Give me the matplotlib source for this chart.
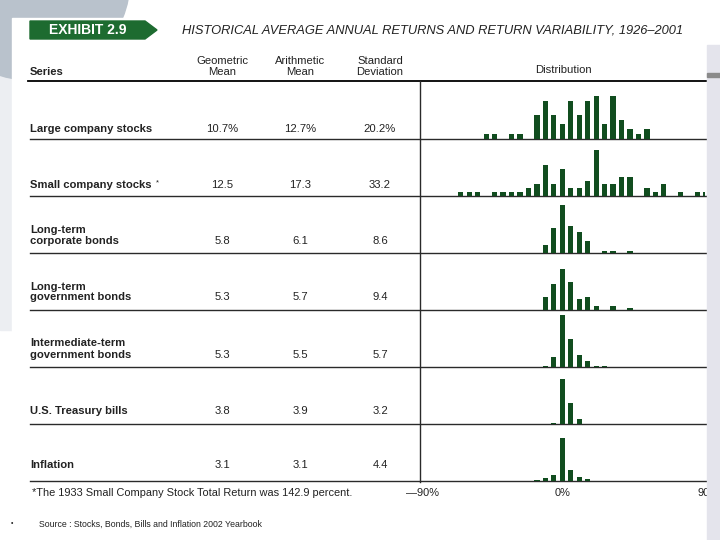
import matplotlib
matplotlib.use("Agg")
import matplotlib.pyplot as plt
from matplotlib.patches import Polygon, Rectangle, Circle

plt.rcParams["font.family"] = ["Liberation Sans", "DejaVu Sans"]

# ===============================
# DATA
# ===============================

series_names = [
    "Large company stocks",
    "Small company stocks",
    "Long-term\ncorporate bonds",
    "Long-term\ngovernment bonds",
    "Intermediate-term\ngovernment bonds",
    "U.S. Treasury bills",
    "Inflation",
]
geometric_mean = ["10.7%", "12.5", "5.8", "5.3", "5.3", "3.8", "3.1"]
arithmetic_mean = ["12.7%", "17.3", "6.1", "5.7", "5.5", "3.9", "3.1"]
std_dev = ["20.2%", "33.2", "8.6", "9.4", "5.7", "3.2", "4.4"]

# distribution: lower edge of each 5% return bin and number of years in it
large_bins = [-45, -40, -30, -25, -15, -10, -5, 0, 5, 10, 15, 20, 25, 30, 35, 40, 45, 50]
large_counts = [1, 1, 1, 1, 5, 8, 5, 3, 8, 5, 8, 9, 3, 9, 4, 2, 1, 2]

small_bins = [-60, -55, -50, -40, -35, -30, -25, -20, -15, -10, -5, 0, 5, 10,
              15, 20, 25, 30, 35, 40, 50, 55, 60, 70, 80, 85]
small_counts = [1, 1, 1, 1, 1, 1, 1, 2, 3, 8, 3, 7, 2, 2,
                4, 12, 3, 3, 5, 5, 2, 1, 3, 1, 1, 1]

corp_bins = [-10, -5, 0, 5, 10, 15, 25, 30, 40]
corp_counts = [4, 13, 25, 14, 11, 6, 1, 1, 1]

gov_bins = [-10, -5, 0, 5, 10, 15, 20, 30, 40]
gov_counts = [7, 14, 22, 15, 6, 7, 2, 2, 1]

inter_bins = [-10, -5, 0, 5, 10, 15, 20, 25]
inter_counts = [1, 7, 35, 19, 8, 4, 1, 1]

tbill_bins = [-5, 0, 5, 10]
tbill_counts = [1, 48, 22, 5]

infl_bins = [-15, -10, -5, 0, 5, 10, 15]
infl_counts = [1, 3, 7, 47, 12, 4, 2]

dist_bins = [large_bins, small_bins, corp_bins, gov_bins, inter_bins, tbill_bins, infl_bins]
dist_counts = [large_counts, small_counts, corp_counts, gov_counts, inter_counts, tbill_counts, infl_counts]

# vertical scale of each little histogram (counts shown over one row height)
row_scale = [12.2, 14.9, 29.5, 30.6, 38.0, 61.0, 63.0]

# ===============================
# LAYOUT (pixel coordinates)
# ===============================

W, H = 720, 540
fig = plt.figure(figsize=(7.2, 5.4), dpi=100)
fig.patch.set_facecolor("white")
ax = fig.add_axes([0, 0, 1, 1])
ax.set_xlim(0, W)
ax.set_ylim(H, 0)
ax.axis("off")

# page background / scan edges
ax.add_patch(Rectangle((0, 0), 12, 330, color="#eceef2", zorder=0))
ax.add_patch(Circle((30, -20), 100, color="#b9c2cc", zorder=0))
ax.add_patch(Rectangle((12, 18), 695, 530, color="white", zorder=1))

# exhibit banner
banner = Polygon([(30, 21), (145, 21), (157, 30), (145, 39), (30, 39)],
                 closed=True, color="#1d6b30", zorder=3)
ax.add_patch(banner)
ax.text(88, 30.5, "EXHIBIT 2.9", color="white", fontsize=10, fontweight="bold",
        ha="center", va="center", zorder=4)
ax.text(182, 30.5, "HISTORICAL AVERAGE ANNUAL RETURNS AND RETURN VARIABILITY, 1926\u20132001",
        fontsize=9.3, style="italic", color="#222222", ha="left", va="center", zorder=4)

# column headers
txt = dict(color="#222222", zorder=4)
fs = 8.1
ax.text(30, 72, "Series", fontsize=fs, fontweight="bold", ha="left", va="center", **txt)
col_x = [222, 300, 380]
headers = [("Geometric", "Mean"), ("Arithmetic", "Mean"), ("Standard", "Deviation")]
for cx, (h1, h2) in zip(col_x, headers):
    ax.text(cx, 61, h1, fontsize=fs, ha="center", va="center", **txt)
    ax.text(cx, 72, h2, fontsize=fs, ha="center", va="center", **txt)
ax.text(563, 70, "Distribution", fontsize=fs, ha="center", va="center", **txt)

# rule lines
row_lines = [81, 138.5, 196, 253, 310, 367, 424, 481]
ax.plot([28, 706], [row_lines[0], row_lines[0]], color="black", lw=1.3, zorder=4)
for y in row_lines[1:]:
    ax.plot([30, 706], [y, y], color="#2a2a2a", lw=1.0, zorder=4)
ax.plot([420, 420], [row_lines[0], row_lines[-1] + 1], color="#2a2a2a", lw=1.0, zorder=4)

# table rows
value_y = [129, 185.5, 241, 297.5, 354.5, 410.5, 465.5]
for i, name in enumerate(series_names):
    y_val = value_y[i]
    lines = name.split("\n")
    for j, line in enumerate(lines):
        ax.text(30, y_val - 11 * (len(lines) - 1 - j), line, fontsize=fs, fontweight="bold",
                ha="left", va="center", **txt)
    for cx, vals in zip(col_x, [geometric_mean, arithmetic_mean, std_dev]):
        ax.text(cx, y_val, vals[i], fontsize=fs, ha="center", va="center", **txt)
ax.text(156, value_y[1] - 3, "*", fontsize=5.5, ha="left", va="center", **txt)

# footnote, axis labels, source
ax.text(32, 492.5, "*The 1933 Small Company Stock Total Return was 142.9 percent.",
        fontsize=7.9, ha="left", va="center", **txt)
ax.text(423, 492.5, "\u201490%", fontsize=7.9, ha="center", va="center", **txt)
ax.text(563, 492.5, "0%", fontsize=7.9, ha="center", va="center", **txt)
ax.text(697, 492.5, "90%", fontsize=7.9, ha="left", va="center", **txt)
ax.text(12, 524, "\u2022", fontsize=5, ha="center", va="center", **txt)
ax.text(39, 524, "Source : Stocks, Bonds, Bills and Inflation 2002 Yearbook",
        fontsize=6.3, ha="left", va="center", **txt)

# right scan edge (drawn over the cut "90%")
ax.add_patch(Rectangle((707, 45), 13, 500, color="#e4e4ec", zorder=6))
ax.add_patch(Rectangle((707, 73), 13, 4, color="#8a8a8a", zorder=7))

# ===============================
# DISTRIBUTION HISTOGRAMS
# ===============================

left_px, right_px = 420, 705
px_per_pct = 8.46 / 5
zero_px = 562.3
x_lo = 2.5 + (left_px - zero_px) / px_per_pct
x_hi = 2.5 + (right_px - zero_px) / px_per_pct

for i in range(len(dist_bins)):
    top = row_lines[i]
    base = row_lines[i + 1]
    hax = fig.add_axes([left_px / W, 1 - base / H, (right_px - left_px) / W, (base - top) / H])
    hax.patch.set_alpha(0)
    centers = [b + 2.5 for b in dist_bins[i]]
    hax.bar(centers, dist_counts[i], width=3.1, color="#114d1f", zorder=5)
    hax.set_xlim(x_lo, x_hi)
    hax.set_ylim(0, row_scale[i])
    hax.axis("off")

plt.savefig("out.png", dpi=100)
